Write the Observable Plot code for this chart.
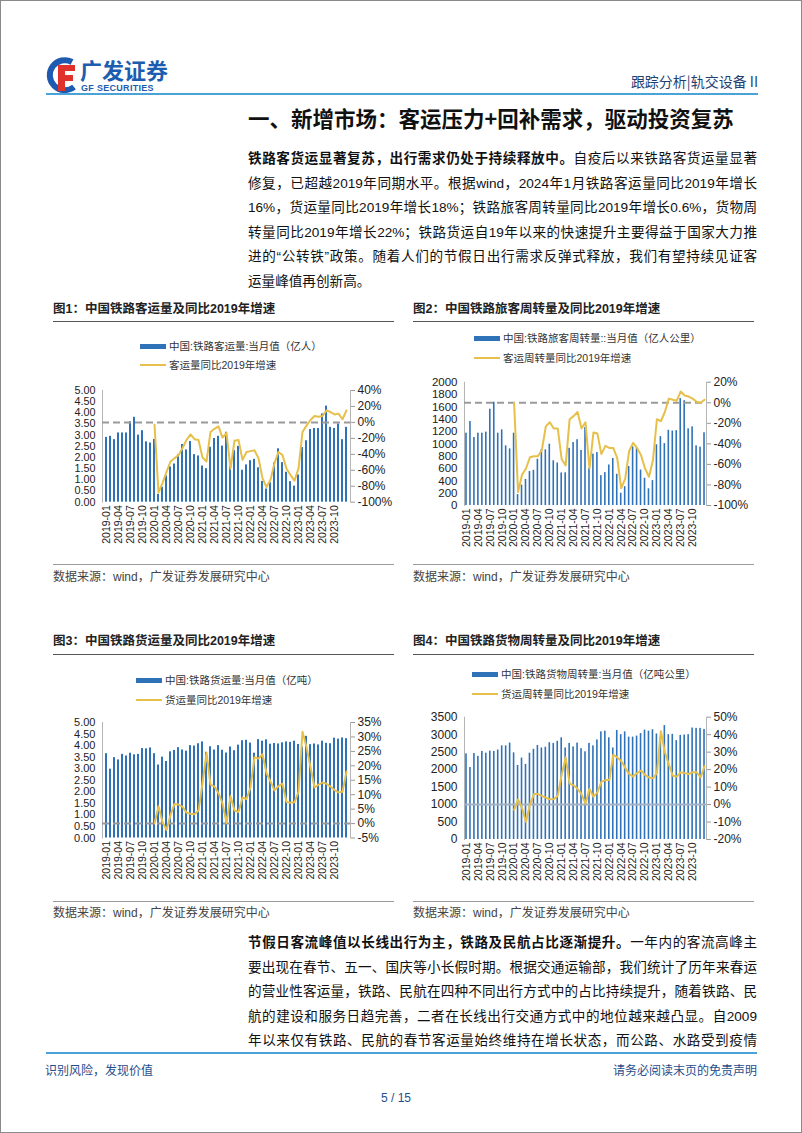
<!DOCTYPE html>
<html><head><meta charset="utf-8">
<script src="https://cdn.jsdelivr.net/npm/d3@7"></script>
<script src="https://cdn.jsdelivr.net/npm/@observablehq/plot@0.6"></script>
<style>
html,body{margin:0;padding:0;background:#fff;}
#page{position:relative;width:802px;height:1133px;box-sizing:border-box;border:1px solid #8a8a8a;overflow:hidden;font-family:"Liberation Sans","Noto Sans CJK SC",sans-serif;}
.abs{position:absolute;white-space:nowrap;}
.p{position:absolute;left:247px;width:509px;height:20px;line-height:20px;font-size:13.6px;color:#111;white-space:nowrap;text-align:justify;text-align-last:justify;text-justify:inter-character;}
.p.last{text-align-last:left;}
.p b{font-weight:700;}
.ftitle{position:absolute;font-size:12.5px;font-weight:700;color:#222;line-height:16px;white-space:nowrap;}
.frule{position:absolute;height:0;border-top:1.5px solid #555;}
.srule{position:absolute;height:0;border-top:1px solid #9a9a9a;}
.src{position:absolute;font-size:12px;color:#444;line-height:16px;white-space:nowrap;}
.leg{position:absolute;font-size:10.5px;color:#333;line-height:14px;height:14px;white-space:nowrap;}
.sw{display:inline-block;width:26px;vertical-align:middle;margin-right:3px;position:relative;top:-1px;}
.chart{position:absolute;}
.chart svg{position:absolute;left:0;top:0;overflow:visible;}
</style></head><body>
<div id="page">
  <svg class="abs" style="left:44px;top:55px" width="34" height="38" viewBox="0 0 34 38">
    <path d="M27 6 A15 15 0 1 0 29 31" fill="none" stroke="#1E5BB0" stroke-width="6"/>
    <path d="M13 9 h17 v6 h-10 v4 h8 v6 h-8 v10 h-7 z" fill="#E0322B"/>
  </svg>
  <div class="abs" style="left:79px;top:55px;font-size:22px;line-height:26px;font-weight:700;color:#1D5DAF;font-family:'Noto Sans CJK SC';">广发证券</div>
  <div class="abs" style="left:80px;top:82px;font-size:9px;line-height:11px;font-weight:700;color:#1D5DAF;letter-spacing:0.3px;">GF SECURITIES</div>
  <div class="abs" style="left:0;width:757px;top:71px;font-size:14px;line-height:18px;color:#1F3F73;text-align:right;font-family:'Noto Sans CJK SC';">跟踪分析|轨交设备 II</div>
  <div class="abs" style="left:45px;top:92px;width:712px;height:2px;background:#4AA3D8;"></div>
  <div class="abs" style="left:247px;top:103px;font-size:21.5px;line-height:28px;font-weight:700;color:#111;font-family:'Noto Sans CJK SC';">一、新增市场：客运压力+回补需求，驱动投资复苏</div>

  <div class="p" style="top:148px"><b>铁路客货运显著复苏，出行需求仍处于持续释放中。</b>自疫后以来铁路客货运量显著</div>
  <div class="p" style="top:172.5px">修复，已超越2019年同期水平。根据wind，2024年1月铁路客运量同比2019年增长</div>
  <div class="p" style="top:197px">16%，货运量同比2019年增长18%；铁路旅客周转量同比2019年增长0.6%，货物周</div>
  <div class="p" style="top:221.5px">转量同比2019年增长22%；铁路货运自19年以来的快速提升主要得益于国家大力推</div>
  <div class="p" style="top:246px">进的“公转铁”政策。随着人们的节假日出行需求反弹式释放，我们有望持续见证客</div>
  <div class="p last" style="top:270.5px">运量峰值再创新高。</div>

  <div class="ftitle" style="left:52px;top:300px">图1：中国铁路客运量及同比2019年增速</div>
  <div class="frule" style="left:52px;top:320px;width:341px"></div>
  <div class="ftitle" style="left:412px;top:300px">图2：中国铁路旅客周转量及同比2019年增速</div>
  <div class="frule" style="left:412px;top:320px;width:341px"></div>

  <div class="leg" style="left:139px;top:338px"><span class="sw" style="height:5px;background:#2F72B8"></span>中国:铁路客运量:当月值（亿人）</div>
  <div class="leg" style="left:139px;top:357px"><span class="sw" style="height:2px;background:#E6C04A"></span>客运量同比2019年增速</div>
  <div class="leg" style="left:473px;top:330px"><span class="sw" style="height:5px;background:#2F72B8"></span>中国:铁路旅客周转量::当月值（亿人公里）</div>
  <div class="leg" style="left:473px;top:350px"><span class="sw" style="height:2px;background:#E6C04A"></span>客运周转量同比2019年增速</div>

  <div class="chart" id="c1" style="left:40px;top:380px;width:360px;height:180px"></div>
  <div class="chart" id="c2" style="left:410px;top:370px;width:360px;height:190px"></div>

  <div class="srule" style="left:52px;top:563px;width:341px"></div>
  <div class="src" style="left:52px;top:568px">数据来源：wind，广发证券发展研究中心</div>
  <div class="srule" style="left:412px;top:563px;width:341px"></div>
  <div class="src" style="left:412px;top:568px">数据来源：wind，广发证券发展研究中心</div>

  <div class="ftitle" style="left:52px;top:632px">图3：中国铁路货运量及同比2019年增速</div>
  <div class="frule" style="left:52px;top:653px;width:341px"></div>
  <div class="ftitle" style="left:412px;top:632px">图4：中国铁路货物周转量及同比2019年增速</div>
  <div class="frule" style="left:412px;top:653px;width:341px"></div>

  <div class="leg" style="left:135px;top:672px"><span class="sw" style="height:5px;background:#2F72B8"></span>中国:铁路货运量:当月值（亿吨）</div>
  <div class="leg" style="left:135px;top:692px"><span class="sw" style="height:2px;background:#E6C04A"></span>货运量同比2019年增速</div>
  <div class="leg" style="left:471px;top:666px"><span class="sw" style="height:5px;background:#2F72B8"></span>中国:铁路货物周转量:当月值（亿吨公里）</div>
  <div class="leg" style="left:471px;top:686px"><span class="sw" style="height:2px;background:#E6C04A"></span>货运周转量同比2019年增速</div>

  <div class="chart" id="c3" style="left:40px;top:710px;width:360px;height:190px"></div>
  <div class="chart" id="c4" style="left:410px;top:700px;width:360px;height:200px"></div>

  <div class="srule" style="left:52px;top:900px;width:341px"></div>
  <div class="src" style="left:52px;top:904px">数据来源：wind，广发证券发展研究中心</div>
  <div class="srule" style="left:412px;top:900px;width:341px"></div>
  <div class="src" style="left:412px;top:904px">数据来源：wind，广发证券发展研究中心</div>

  <div class="p" style="top:932px"><b>节假日客流峰值以长线出行为主，铁路及民航占比逐渐提升。</b>一年内的客流高峰主</div>
  <div class="p" style="top:956.5px">要出现在春节、五一、国庆等小长假时期。根据交通运输部，我们统计了历年来春运</div>
  <div class="p" style="top:981px">的营业性客运量，铁路、民航在四种不同出行方式中的占比持续提升，随着铁路、民</div>
  <div class="p" style="top:1005.5px">航的建设和服务日趋完善，二者在长线出行交通方式中的地位越来越凸显。自2009</div>
  <div class="p" style="top:1030px">年以来仅有铁路、民航的春节客运量始终维持在增长状态，而公路、水路受到疫情</div>

  <div class="abs" style="left:45px;top:1051px;width:711px;height:2px;background:#4AA3D8;"></div>
  <div class="abs" style="left:44px;top:1061px;font-size:12px;line-height:16px;color:#1F4E8C;font-family:'Noto Sans CJK SC';">识别风险，发现价值</div>
  <div class="abs" style="left:0;width:756px;top:1061px;font-size:12px;line-height:16px;color:#1F4E8C;text-align:right;font-family:'Noto Sans CJK SC';">请务必阅读末页的免责声明</div>
  <div class="abs" style="left:0;width:790px;top:1089px;font-size:12px;line-height:16px;color:#1F4E8C;text-align:center;">5 / 15</div>
</div>
<script>
const months = ["2019-01","2019-02","2019-03","2019-04","2019-05","2019-06","2019-07","2019-08","2019-09","2019-10","2019-11","2019-12",
"2020-01","2020-02","2020-03","2020-04","2020-05","2020-06","2020-07","2020-08","2020-09","2020-10","2020-11","2020-12",
"2021-01","2021-02","2021-03","2021-04","2021-05","2021-06","2021-07","2021-08","2021-09","2021-10","2021-11","2021-12",
"2022-01","2022-02","2022-03","2022-04","2022-05","2022-06","2022-07","2022-08","2022-09","2022-10","2022-11","2022-12",
"2023-01","2023-02","2023-03","2023-04","2023-05","2023-06","2023-07","2023-08","2023-09","2023-10","2023-11","2023-12",
"2024-01"];
const xTicks = ["2019-01","2019-04","2019-07","2019-10","2020-01","2020-04","2020-07","2020-10","2021-01","2021-04","2021-07","2021-10",
"2022-01","2022-04","2022-07","2022-10","2023-01","2023-04","2023-07","2023-10"];
const N = null;

// 图1 铁路客运量（亿人）与同比2019年增速（%）
const passengerVol = [2.90,2.95,2.80,3.10,3.10,3.10,3.60,3.80,3.00,3.20,2.70,2.65,
2.81,0.35,0.67,1.18,1.58,1.71,2.12,2.58,2.34,2.72,2.13,2.07,
1.62,1.50,2.46,2.85,2.95,2.51,3.13,1.60,2.31,2.50,1.43,1.67,
1.86,1.92,1.54,0.93,0.59,0.87,1.76,2.39,1.77,1.34,0.92,0.72,
1.22,2.45,2.75,3.25,3.30,3.30,3.95,4.30,3.35,3.30,3.50,2.80,
3.35];
const passengerYoY = [N,N,N,N,N,N,N,N,N,N,N,N,
-3,-88,-76,-62,-49,-45,-41,-32,-22,-15,-21,-22,
-44,-49,-12,-8,-5,-19,-13,-58,-23,-22,-47,-37,
-36,-35,-45,-70,-81,-72,-51,-37,-41,-58,-66,-73,
-58,-12,-4,3,8,7,8,15,13,10,11,4,
15];

// 图2 旅客周转量（亿人公里）与同比
const passengerKm = [1173,1362,1103,1173,1173,1190,1562,1676,1173,1227,968,919,
1173,177,331,422,551,571,750,905,903,994,726,689,
528,531,927,1021,1067,893,1265,603,833,859,484,533,
657,763,507,199,305,631,953,939,575,442,271,404,
985,1117,1004,1220,1208,1214,1734,1700,1243,1276,968,947,
1180];
const passengerKmYoY = [N,N,N,N,N,N,N,N,N,N,N,N,
0,-87,-70,-64,-53,-52,-52,-46,-23,-19,-25,-25,
-55,-61,-16,-13,-9,-25,-19,-64,-29,-30,-50,-42,
-44,-44,-54,-83,-74,-47,-39,-44,-51,-64,-72,-56,
-16,-18,-9,4,3,2,11,7,6,4,1,0,
3];

// 图3 货运量（亿吨）与同比
const freightVol = [3.65,2.98,3.48,3.38,3.62,3.55,3.67,3.60,3.62,3.87,3.86,3.90,
3.65,3.16,3.50,3.31,3.73,3.79,3.91,3.81,3.76,4.00,3.98,4.08,
4.16,3.71,3.95,3.81,4.00,3.80,3.68,3.94,3.78,4.02,4.21,4.23,
4.11,3.67,4.26,4.19,4.25,4.06,4.09,4.07,4.12,4.16,4.14,4.19,
4.05,3.93,4.40,4.04,4.07,4.03,4.19,4.10,4.08,4.32,4.28,4.33,
4.30];
const freightYoY = [N,N,N,N,N,N,N,N,N,N,N,N,
0,6,0.5,-2.2,3,6.8,6.6,5.8,3.8,3.4,3.2,4.5,
14,24.5,13.5,12.8,10.5,7,0.2,9.5,4.5,4,9,8.5,
12.5,23,22.5,24,17.5,14.5,11.5,13,13.8,7.5,7.2,7.4,
11,31.8,26.5,19.5,12.5,13.5,14.2,13.8,12.8,11.6,10.8,11,
18];

// 图4 货物周转量（亿吨公里）与同比
const freightTkm = [2450,2060,2460,2380,2520,2470,2530,2520,2560,2680,2680,2760,
2480,2120,2330,2150,2470,2580,2690,2620,2640,2770,2750,2810,
2910,2620,2750,2650,2760,2600,2510,2750,2680,2850,3080,3100,
2910,2620,3120,3000,3080,2930,2930,2960,3030,3130,3100,3140,
3020,2930,3260,3000,3010,2830,2980,2990,3000,3190,3180,3180,
3150];
const freightTkmYoY = [N,N,N,N,N,N,N,N,N,N,N,N,
-3,3,-2,-10,0,6,6,5,4,3,3,5,
17,27,12,11,9,6,0.5,9,4.5,7,13,14,
14,28.5,27,25,21,17.5,16,18,19.5,17,15.5,15,
18,42,30,23,16.5,16,18.5,18,17.5,18.5,18.5,15.5,
22];

const ticksVol = [0,0.5,1,1.5,2,2.5,3,3.5,4,4.5,5];
const ticksC1Right = [-100,-80,-60,-40,-20,0,20,40];
const ticksC2Left = [0,200,400,600,800,1000,1200,1400,1600,1800,2000];
const ticksC2Right = [-100,-80,-60,-40,-20,0,20];
const ticksC3Right = [-5,0,5,10,15,20,25,30,35];
const ticksC4Left = [0,500,1000,1500,2000,2500,3000,3500];
const ticksC4Right = [-20,-10,0,10,20,30,40,50];

const barColor = "#2F72B8";
const lineColor = "#E6C04A";

function dualChart(id, cfg) {
  const el = document.getElementById(id);
  const idx = d3.range(months.length);
  const xOpt = {type: "band", domain: months, paddingInner: 0.6, paddingOuter: 0.3};
  const common = {
    width: cfg.w, height: cfg.h,
    marginLeft: cfg.ml, marginRight: cfg.mr, marginTop: cfg.mt, marginBottom: cfg.mb,
    style: {background: "transparent", color: "#222", fontFamily: "Liberation Sans, Arial, sans-serif", overflow: "visible"}
  };
  const bars = Plot.plot({
    ...common,
    x: {...xOpt},
    y: {domain: cfg.leftDomain},
    marks: [
      Plot.barY(idx, {x: i => months[i], y: i => cfg.bars[i], fill: barColor}),
      Plot.axisX({ticks: xTicks, tickRotate: -90, tickSize: 0, tickPadding: 3, fontSize: 10.5}),
      Plot.axisY({ticks: cfg.leftTicks, tickFormat: cfg.leftFmt, tickSize: 0, tickPadding: 7, fontSize: cfg.leftFont}),
      Plot.frame({anchor: "left", stroke: "#b5b5b5"})
    ]
  });
  const lines = Plot.plot({
    ...common,
    x: {...xOpt, axis: null},
    y: {domain: cfg.rightDomain},
    marks: [
      Plot.ruleY([0], {stroke: cfg.zeroColor, strokeWidth: 2, strokeDasharray: cfg.zeroDash}),
      Plot.line(idx.filter(i => cfg.yoy[i] != null), {x: i => months[i], y: i => cfg.yoy[i], stroke: lineColor, strokeWidth: 2}),
      Plot.axisY({anchor: "right", ticks: cfg.rightTicks, tickFormat: d => d + "%", tickSize: 4, tickPadding: 3, fontSize: 12, stroke: "#999"}),
      Plot.frame({anchor: "right", stroke: "#b5b5b5"})
    ]
  });
  el.appendChild(bars);
  el.appendChild(lines);
}

const fmt2 = d3.format(".2f");
dualChart("c1", {w: 360, h: 180, ml: 61, mr: 51, mt: 9, mb: 59.3, leftFont: 10.8,
  bars: passengerVol, yoy: passengerYoY, leftDomain: [0, 5], rightDomain: [-100, 40],
  leftTicks: ticksVol, leftFmt: fmt2, rightTicks: ticksC1Right, zeroColor: "#9a9a9a", zeroDash: "7,4"});
dualChart("c2", {w: 360, h: 190, ml: 53, mr: 65, mt: 10.7, mb: 56, leftFont: 11.5,
  bars: passengerKm, yoy: passengerKmYoY, leftDomain: [0, 2000], rightDomain: [-100, 20],
  leftTicks: ticksC2Left, leftFmt: d => String(d), rightTicks: ticksC2Right, zeroColor: "#9a9a9a", zeroDash: "7,4"});
dualChart("c3", {w: 360, h: 190, ml: 61, mr: 51, mt: 11, mb: 63.5, leftFont: 11,
  bars: freightVol, yoy: freightYoY, leftDomain: [0, 5], rightDomain: [-5, 35],
  leftTicks: ticksVol, leftFmt: fmt2, rightTicks: ticksC3Right, zeroColor: "#9a9a9a", zeroDash: "7,4"});
dualChart("c4", {w: 360, h: 200, ml: 53, mr: 65, mt: 15.7, mb: 62, leftFont: 12,
  bars: freightTkm, yoy: freightTkmYoY, leftDomain: [0, 3500], rightDomain: [-20, 50],
  leftTicks: ticksC4Left, leftFmt: d => String(d), rightTicks: ticksC4Right, zeroColor: "#A3B1C2", zeroDash: null});
</script>
</body></html>
